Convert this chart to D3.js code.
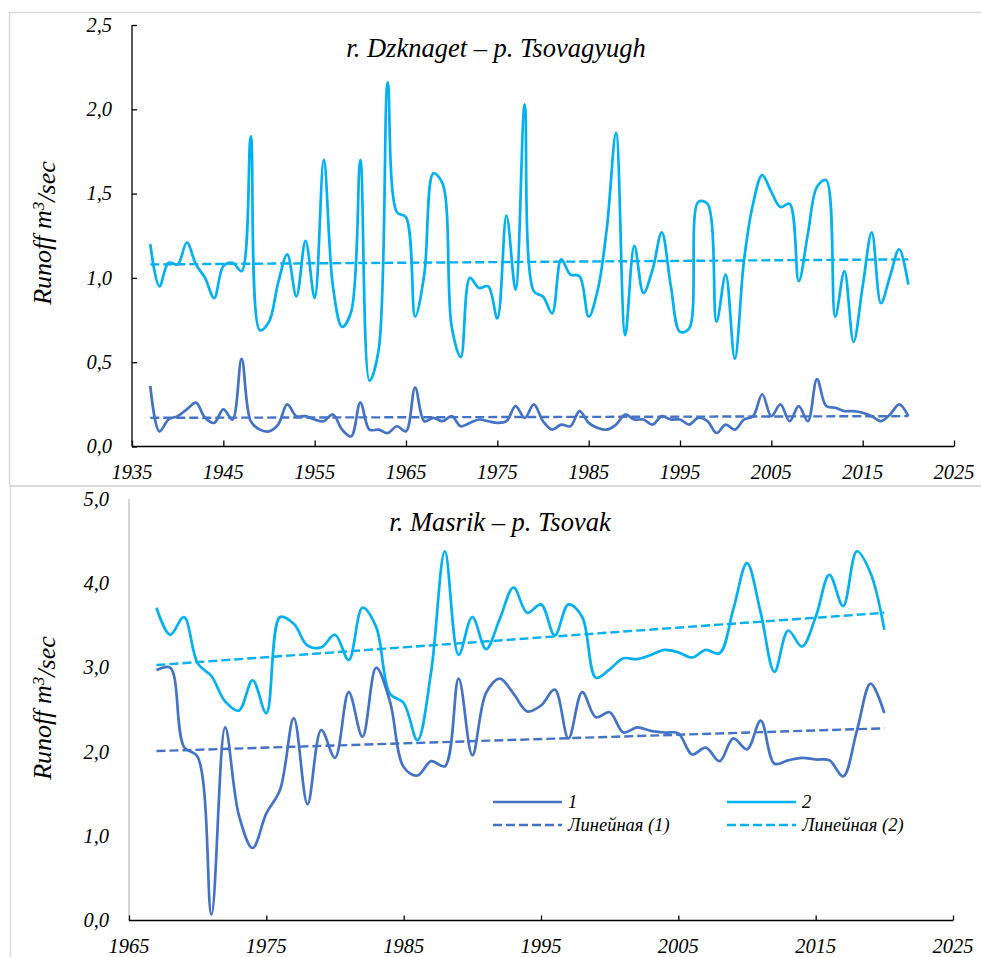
<!DOCTYPE html>
<html><head><meta charset="utf-8">
<script src="https://cdn.jsdelivr.net/npm/d3@7"></script>
<style>body{margin:0;background:#fff}svg{display:block}</style>
</head><body>
<script>
// ---------- DATA ----------
const topYears = d3.range(1937, 2021);
const topSeries1 = [0.36,0.09,0.16,0.18,0.22,0.26,0.17,0.14,0.22,0.16,
  0.52,0.15,0.10,0.09,0.13,0.25,0.18,0.18,0.16,0.15,
  0.19,0.10,0.06,0.26,0.10,0.10,0.08,0.12,0.09,0.35,
  0.15,0.17,0.15,0.18,0.12,0.14,0.16,0.15,0.14,0.15,
  0.24,0.17,0.25,0.15,0.10,0.13,0.12,0.21,0.14,0.11,
  0.10,0.13,0.19,0.16,0.16,0.13,0.18,0.16,0.16,0.13,
  0.17,0.15,0.08,0.13,0.10,0.16,0.18,0.31,0.18,0.25,
  0.15,0.24,0.15,0.40,0.24,0.23,0.21,0.21,0.20,0.18,
  0.15,0.19,0.25,0.18];
const topSeries2 = [1.20,0.95,1.09,1.08,1.21,1.08,1.00,0.88,1.07,1.09,
  1.04,1.84,0.69,0.74,0.97,1.14,0.89,1.22,0.88,1.70,
  0.95,0.71,0.80,1.70,0.39,0.57,2.16,1.39,1.36,0.77,
  1.02,1.62,1.56,0.71,0.53,1.00,0.94,0.95,0.76,1.37,
  0.93,2.03,0.92,0.89,0.79,1.11,1.02,1.01,0.77,0.93,
  1.30,1.86,0.66,1.19,0.91,1.05,1.27,0.95,0.68,0.70,
  1.45,1.44,0.74,1.02,0.52,1.10,1.44,1.61,1.51,1.42,
  1.44,0.98,1.26,1.54,1.58,0.77,1.04,0.62,0.95,1.27,
  0.85,1.01,1.17,0.96];
const topTrend1 = [0.17, 0.18];   // trend values at first and last year
const topTrend2 = [1.08, 1.11];
const topXTicks = [1935,1945,1955,1965,1975,1985,1995,2005,2015,2025];
const topYTicks = [0,0.5,1.0,1.5,2.0,2.5];
const topTitle = "r. Dzknaget – p. Tsovagyugh";

const botYears = d3.range(1967, 2021);
const botSeries1 = [2.97,3.00,2.06,1.94,0.07,2.29,1.25,0.86,1.27,1.55,
  2.40,1.38,2.26,1.93,2.71,2.18,3.00,2.60,1.82,1.72,
  1.89,1.83,2.87,1.96,2.70,2.87,2.69,2.48,2.55,2.74,
  2.16,2.71,2.41,2.47,2.23,2.29,2.25,2.23,2.22,1.97,
  2.05,1.89,2.16,2.03,2.37,1.86,1.90,1.93,1.91,1.90,
  1.71,2.25,2.81,2.46];
const botSeries2 = [3.71,3.39,3.60,3.05,2.90,2.60,2.49,2.85,2.46,3.60,
  3.52,3.26,3.24,3.39,3.09,3.71,3.48,2.69,2.58,2.14,
  2.95,4.38,3.15,3.60,3.22,3.58,3.95,3.65,3.75,3.38,
  3.75,3.60,2.88,2.98,3.11,3.10,3.15,3.21,3.18,3.12,
  3.21,3.17,3.69,4.24,3.65,2.95,3.44,3.25,3.60,4.10,
  3.73,4.38,4.12,3.45];
const botTrend1 = [2.01, 2.28];
const botTrend2 = [3.03, 3.65];
const botXTicks = [1965,1975,1985,1995,2005,2015,2025];
const botYTicks = [0,1,2,3,4,5];
const botTitle = "r. Masrik – p. Tsovak";

const legendLabels = ["1","2","Линейная (1)","Линейная (2)"];
const colors = {s1:"#4472c4", s2:"#00b0f0"};

// ---------- DRAW ----------
const FONT = "'Liberation Serif', 'Times New Roman', serif";
const W = 981, H = 957;
const svg = d3.select("body").append("svg").attr("width", W).attr("height", H)
  .attr("font-family", FONT).attr("font-style","italic");
const fmt = v => d3.format(".1f")(v).replace(".", ",");
function txt(sel){ return sel.attr("font-family",FONT).attr("font-style","italic").attr("fill","#000"); }

// panel borders
svg.append("rect").attr("x",9.5).attr("y",12.5).attr("width",990).attr("height",473.5)
  .attr("fill","none").attr("stroke","#d9d9d9").attr("stroke-width",1.5);
svg.append("rect").attr("x",10.5).attr("y",486).attr("width",990).attr("height",500)
  .attr("fill","none").attr("stroke","#d9d9d9").attr("stroke-width",1.5);

function chart(cfg){
  const g = svg.append("g");
  const x = d3.scaleLinear().domain(cfg.xDomain).range(cfg.xRange);
  const y = d3.scaleLinear().domain(cfg.yDomain).range(cfg.yRange);
  // y axis
  const ya = g.append("g").attr("transform",`translate(${cfg.xRange[0]},0)`)
    .call(d3.axisRight(y).tickValues(cfg.yTicks).tickSize(cfg.yTickLen).tickFormat(""));
  ya.select(".domain").attr("stroke",cfg.yAxisColor).attr("stroke-width",1.3).attr("d",`M0,${cfg.yRange[0]}V${cfg.yRange[1]}`);
  ya.selectAll(".tick line").attr("stroke",cfg.yAxisColor).attr("stroke-width",1.3);
  txt(g.selectAll(".ylab").data(cfg.yTicks).join("text").attr("class","ylab"))
    .attr("x",cfg.xRange[0]-20).attr("y",d=>y(d)).attr("dy","0.33em")
    .attr("text-anchor","end").attr("font-size",20.5).text(fmt);
  // x axis
  const xa = g.append("g").attr("transform",`translate(0,${cfg.yRange[0]})`)
    .call(d3.axisTop(x).tickValues(cfg.xTicks).tickSize(cfg.xTickLen).tickFormat(""));
  xa.select(".domain").attr("stroke","#000").attr("stroke-width",1.3).attr("d",`M${cfg.xRange[0]},0H${cfg.xRange[1]}`);
  xa.selectAll(".tick line").attr("stroke","#000").attr("stroke-width",1.3);
  txt(g.selectAll(".xlab").data(cfg.xTicks).join("text").attr("class","xlab"))
    .attr("x",d=>x(d)).attr("y",cfg.yRange[0]+32)
    .attr("text-anchor","middle").attr("font-size",20.5).text(d=>d);
  // title
  txt(g.append("text")).attr("x",cfg.titleX).attr("y",cfg.titleY).attr("text-anchor","middle")
    .attr("font-size",26.5).text(cfg.title);
  // y title
  const yt = txt(g.append("text")).attr("transform",`translate(51,${cfg.yTitleY}) rotate(-90)`)
    .attr("text-anchor","middle").attr("font-size",26);
  yt.append("tspan").text("Runoff m");
  yt.append("tspan").attr("dy","-0.4em").attr("font-size",17).text("3");
  yt.append("tspan").attr("dy","0.4em").text("/sec");
  // lines
  const line = d3.line().x(d=>x(d[0])).y(d=>y(d[1])).curve(d3.curveCatmullRom.alpha(0.5));
  const straight = d3.line().x(d=>x(d[0])).y(d=>y(d[1]));
  const yrs = cfg.years;
  const first = yrs[0], last = yrs[yrs.length-1];
  g.append("path").datum([[first,cfg.t1[0]],[last,cfg.t1[1]]]).attr("d",straight)
    .attr("fill","none").attr("stroke",colors.s1).attr("stroke-width",2.4).attr("stroke-dasharray","9,4");
  g.append("path").datum([[first,cfg.t2[0]],[last,cfg.t2[1]]]).attr("d",straight)
    .attr("fill","none").attr("stroke",colors.s2).attr("stroke-width",2.4).attr("stroke-dasharray","9,4");
  g.append("path").datum(yrs.map((yr,i)=>[yr,cfg.s2[i]])).attr("d",line)
    .attr("fill","none").attr("stroke",colors.s2).attr("stroke-width",2.7).attr("stroke-linejoin","round");
  g.append("path").datum(yrs.map((yr,i)=>[yr,cfg.s1[i]])).attr("d",line)
    .attr("fill","none").attr("stroke",colors.s1).attr("stroke-width",2.7).attr("stroke-linejoin","round");
  return g;
}

chart({xDomain:[1935,2025], xRange:[132,954], yDomain:[0,2.5], yRange:[446.5,25],
  xTicks:topXTicks, yTicks:topYTicks, yTickLen:5, xTickLen:6, yAxisColor:"#000",
  title:topTitle, titleX:496, titleY:57, yTitleY:233,
  years:topYears, s1:topSeries1, s2:topSeries2, t1:topTrend1, t2:topTrend2});

const bg = chart({xDomain:[1965,2025], xRange:[129,953], yDomain:[0,5], yRange:[920.5,499],
  xTicks:botXTicks, yTicks:botYTicks, yTickLen:0, xTickLen:5, yAxisColor:"#bfbfbf",
  title:botTitle, titleX:500, titleY:531, yTitleY:708,
  years:botYears, s1:botSeries1, s2:botSeries2, t1:botTrend1, t2:botTrend2});

// legend
const leg = [
  {label:legendLabels[0], color:colors.s1, dash:null, x:493, y:802},
  {label:legendLabels[1], color:colors.s2, dash:null, x:727, y:802},
  {label:legendLabels[2], color:colors.s1, dash:"9,4", x:493, y:825},
  {label:legendLabels[3], color:colors.s2, dash:"9,4", x:727, y:825}];
const lg = bg.append("g").selectAll("g").data(leg).join("g");
lg.append("line").attr("x1",d=>d.x).attr("x2",d=>d.x+69).attr("y1",d=>d.y).attr("y2",d=>d.y)
  .attr("stroke",d=>d.color).attr("stroke-width",2.4).attr("stroke-dasharray",d=>d.dash);
txt(lg.append("text")).attr("x",d=>d.x+75).attr("y",d=>d.y).attr("dy","0.33em")
  .attr("font-size",18.5).text(d=>d.label);
</script>
</body></html>
